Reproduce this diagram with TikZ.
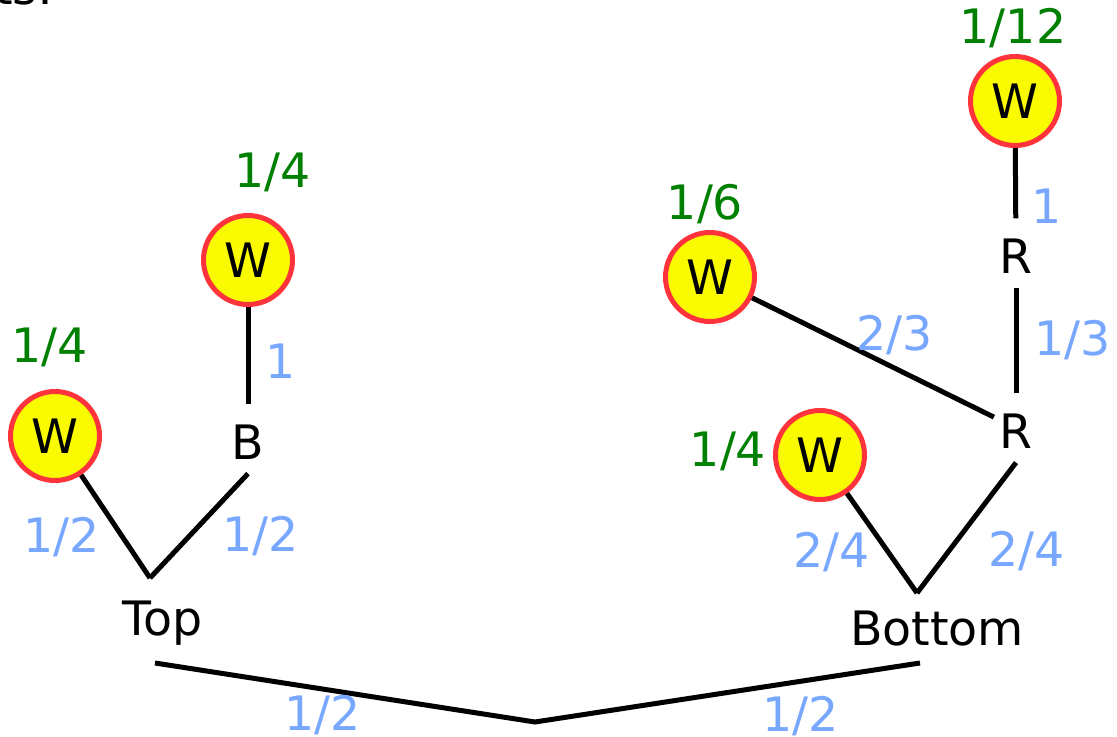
\documentclass[tikz,border=0pt]{standalone}
\usepackage{fontspec}
\setmainfont{DejaVu Sans}
\usetikzlibrary{positioning}
\definecolor{probgreen}{RGB}{0,128,0}
\definecolor{edgeblue}{RGB}{119,167,255}
\definecolor{wred}{RGB}{255,51,60}
\definecolor{wyellow}{RGB}{250,250,0}

\begin{document}
\begin{tikzpicture}[
      x=0.02cm, y=-0.02cm,
      every node/.style={font=\fontsize{27}{32}\selectfont},
      wnode/.style={circle, draw=wred, fill=wyellow, line width=0.1cm, minimum size=1.78cm, inner sep=0pt},
      state/.style={inner sep=3pt, text height=28pt, text depth=5pt},
      prob/.style={text=probgreen, anchor=base},
      elabel/.style={text=edgeblue},
      branch/.style={line width=0.1cm}
  ]
    \useasboundingbox (0,0) rectangle (1117,737);
    \node[anchor=base west, inner sep=0pt] (caption) at (-6,5) {ts:};

    % top subtree
    \node[wnode] (w1) at (55,436) {W};
    \node[wnode] (w2) at (248,260) {W};
    \node[state] (b) at (248,439) {B};
    \coordinate (tj) at (150,578);
    \coordinate (tb) at (155,663);
    \node[anchor=base] (top) at (163,635) {Top};
    \node[prob] (p1) at (50,362) {1/4};
    \node[prob] (p2) at (273,187) {1/4};

    % bottom subtree
    \node[wnode] (w3) at (710,277) {W};
    \node[wnode] (w4) at (1015,101) {W};
    \node[wnode] (w5) at (820,455) {W};
    \node[state] (r1) at (1016,253) {R};
    \node[state] (r2) at (1016,428) {R};
    \coordinate (bj) at (917,593);
    \coordinate (bb) at (920,663);
    \node[anchor=base] (bottom) at (937,645) {Bottom};
    \node[prob] (p3) at (705,219) {1/6};
    \node[prob] (p4) at (1013,44) {1/12};
    \node[prob] (p5) at (728,466) {1/4};

    \coordinate (root) at (535,722);

    \draw[branch] (w1) -- node[elabel, left=8pt, pos=0.6] {1/2} (tj);
    \draw[branch] (b.south) -- node[elabel, right=14pt, pos=0.6] {1/2} (tj);
    \draw[branch] (w2) -- node[elabel, right=5pt, pos=0.56] {1} (b);
    \draw[branch] (w4) -- node[elabel, right=4.5pt, pos=0.83] {1} (r1);
    \draw[branch] (r1) -- node[elabel, right=5.5pt] {1/3} (r2);
    \draw[branch] (w3) -- node[elabel, above=3pt, pos=0.59] {2/3} (r2);
    \draw[branch] (w5) -- node[elabel, left=6pt, pos=0.59] {2/4} (bj);
    \draw[branch] (r2.south) -- node[elabel, right=18pt, pos=0.68] {2/4} (bj);
    \draw[branch] (tb) -- node[elabel, below=-1pt, pos=0.44] {1/2} (root)
                  -- node[elabel, below=3.5pt, pos=0.69] {1/2} (bb);
  \end{tikzpicture}
\end{document}
